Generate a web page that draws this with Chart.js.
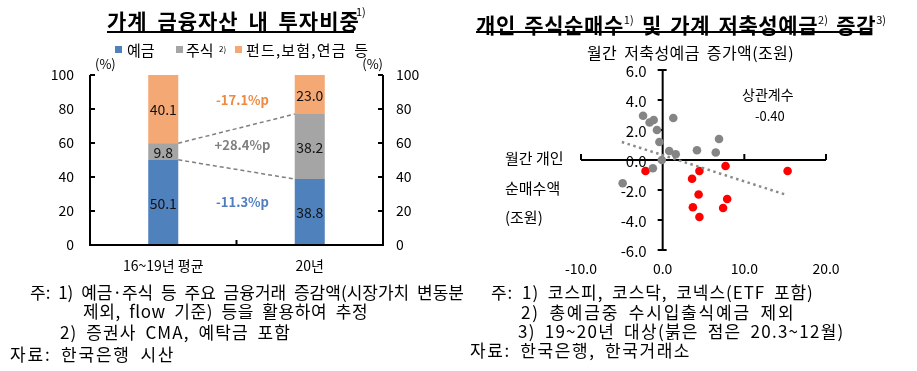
<!DOCTYPE html>
<html><head><meta charset="utf-8">
<script src="https://cdn.jsdelivr.net/npm/chart.js@4.4.0/dist/chart.umd.min.js"></script>
<style>
body{margin:0;background:#fff;width:917px;height:371px;overflow:hidden;position:relative;font-family:'Noto Sans CJK KR','Noto Sans',sans-serif;color:#000}
.t{position:absolute;white-space:pre;line-height:20px}
.fn{position:absolute;white-space:pre;line-height:20px;font-size:17px;word-spacing:4px}
.sq{position:absolute;width:7px;height:7px}
#c1wrap{position:absolute;left:0;top:0;width:460px;height:280px}
#c2wrap{position:absolute;left:460px;top:0;width:457px;height:285px}
.sup{font-size:11px;font-weight:normal;vertical-align:9px;letter-spacing:0;word-spacing:0}
</style></head><body>
<div id="c1wrap"><canvas id="c1" width="460" height="280"></canvas></div>
<div id="c2wrap"><canvas id="c2" width="457" height="285"></canvas></div>

<!-- left title -->
<div class="t" style="left:107px;top:9px;font-size:21px;font-weight:bold;line-height:22px;letter-spacing:1px;word-spacing:4px">가계 금융자산 내 투자비중</div>
<div class="t" style="left:356px;top:5px;font-size:11px;line-height:12px">1)</div>
<div style="position:absolute;left:107px;top:31px;width:247px;height:1.5px;background:#000"></div>
<!-- legend -->
<div class="sq" style="left:115px;top:46px;background:#4f81bd"></div>
<div class="t" style="left:127px;top:40px;font-size:15px">예금</div>
<div class="sq" style="left:176px;top:46px;background:#a5a5a5"></div>
<div class="t" style="left:186px;top:40px;font-size:15px">주식</div>
<div class="t" style="left:219px;top:39px;font-size:8px">2)</div>
<div class="sq" style="left:235px;top:46px;background:#f4a874"></div>
<div class="t" style="left:246px;top:40px;font-size:15px;letter-spacing:1.2px;word-spacing:3px">펀드,보험,연금 등</div>

<!-- right title -->
<div class="t" style="left:476px;top:8px;font-size:21px;font-weight:bold;line-height:22px;letter-spacing:0.6px;word-spacing:3px">개인 주식순매수<span class="sup">1)</span> 및 가계 저축성예금<span class="sup">2)</span> 증감<span class="sup">3)</span></div>
<div style="position:absolute;left:476px;top:31px;width:394px;height:1.5px;background:#000"></div>
<div class="t" style="left:587px;top:42px;font-size:16px;letter-spacing:0.4px;word-spacing:3px">월간 저축성예금 증가액(조원)</div>
<div class="t" style="left:742px;top:84px;font-size:14px">상관계수</div>
<div class="t" style="left:755px;top:106px;font-size:13px">-0.40</div>
<div class="t" style="left:505px;top:148px;font-size:15px">월간 개인</div>
<div class="t" style="left:505px;top:178px;font-size:15px">순매수액</div>
<div class="t" style="left:505px;top:207px;font-size:15px">(조원)</div>

<!-- footnotes left -->
<div class="fn" style="left:30px;top:282px;letter-spacing:0px">주: 1) 예금·주식 등 주요 금융거래 증감액(시장가치 변동분</div>
<div class="fn" style="left:83px;top:301px;letter-spacing:0.6px">제외, flow 기준) 등을 활용하여 추정</div>
<div class="fn" style="left:60px;top:322px;letter-spacing:1.1px">2) 증권사 CMA, 예탁금 포함</div>
<div class="fn" style="left:10px;top:344px;letter-spacing:1.8px">자료: 한국은행 시산</div>
<!-- footnotes right -->
<div class="fn" style="left:491px;top:282px;letter-spacing:0.95px">주: 1) 코스피, 코스닥, 코넥스(ETF 포함)</div>
<div class="fn" style="left:521px;top:302px;letter-spacing:1.8px">2) 총예금중 수시입출식예금 제외</div>
<div class="fn" style="left:518px;top:321px;letter-spacing:1.25px">3) 19~20년 대상(붉은 점은 20.3~12월)</div>
<div class="fn" style="left:470px;top:340px;letter-spacing:1.6px">자료: 한국은행, 한국거래소</div>

<script>
// ---- Left chart data ----
const categories = ['16~19년 평균', '20년'];
const deposits = [50.1, 38.8];
const stocks = [9.8, 38.2];
const funds = [40.1, 23.0];
const seriesNames = ['예금', '주식', '펀드,보험,연금 등'];
const changeLabels = ['-17.1%p', '+28.4%p', '-11.3%p'];

// ---- Right chart data ----
const grayX = [-2.4, -1.6, -1.1, 1.3, -0.7, -0.4, 6.9, 0.8, 1.6, 4.2, 6.5, -0.1, -1.2, -4.9];
const grayY = [2.95, 2.5, 2.67, 2.8, 2.0, 1.2, 1.4, 0.6, 0.38, 0.65, 0.5, 0.0, -0.55, -1.55];
const redX = [-2.1, 4.5, 7.7, 15.3, 3.6, 4.4, 7.9, 3.7, 7.4, 4.5];
const redY = [-0.73, -0.73, -0.4, -0.73, -1.25, -2.3, -2.6, -3.15, -3.2, -3.8];
const trendX = [-5.0, 15.0];
const trendY = [1.2, -2.3];
const xTicks = [-10, 0, 10, 20];
const yTicks = [-6, -4, -2, 0, 2, 4, 6];

const FONT = "'Noto Sans CJK KR','Noto Sans',sans-serif";
const COLORS = ['#4f81bd', '#a5a5a5', '#f4a874'];

const leftDecor = {
  id: 'leftDecor',
  afterDatasetsDraw(chart) {
    const ctx = chart.ctx, a = chart.chartArea;
    const xs = chart.scales.x, ys = chart.scales.y;
    ctx.save();
    ctx.strokeStyle = '#000'; ctx.lineWidth = 2;
    ctx.beginPath();
    ctx.moveTo(a.left, a.top); ctx.lineTo(a.left, a.bottom); ctx.lineTo(a.right, a.bottom); ctx.lineTo(a.right, a.top);
    ctx.stroke();
    ctx.beginPath();
    ys.ticks.forEach(t => {
      const y = ys.getPixelForValue(t.value);
      ctx.moveTo(a.left, y); ctx.lineTo(a.left + 5, y);
      ctx.moveTo(a.right, y); ctx.lineTo(a.right - 5, y);
    });
    const mid = (xs.getPixelForValue(0) + xs.getPixelForValue(1)) / 2;
    ctx.moveTo(mid, a.bottom); ctx.lineTo(mid, a.bottom - 5);
    ctx.stroke();
    // (%)
    ctx.fillStyle = '#000'; ctx.font = '13px ' + FONT; ctx.textBaseline = 'middle';
    ctx.textAlign = 'left'; ctx.fillText('(%)', a.left + 5, a.top - 11);
    ctx.textAlign = 'right'; ctx.fillText('(%)', a.right, a.top - 11);
    // data labels
    ctx.textAlign = 'center'; ctx.font = '14px ' + FONT; ctx.fillStyle = '#111';
    chart.data.datasets.forEach((ds, di) => {
      chart.getDatasetMeta(di).data.forEach((bar, i) => {
        ctx.fillText(ds.data[i].toFixed(1), bar.x, (bar.y + bar.base) / 2 + 1);
      });
    });
    // connector lines
    const m0 = chart.getDatasetMeta(0).data, m1 = chart.getDatasetMeta(1).data;
    ctx.strokeStyle = '#7f7f7f'; ctx.lineWidth = 1.5; ctx.setLineDash([4, 3]);
    ctx.beginPath();
    ctx.moveTo(m1[0].x + m1[0].width / 2, m1[0].y); ctx.lineTo(m1[1].x - m1[1].width / 2, m1[1].y);
    ctx.moveTo(m0[0].x + m0[0].width / 2, m0[0].y); ctx.lineTo(m0[1].x - m0[1].width / 2, m0[1].y);
    ctx.stroke(); ctx.setLineDash([]);
    // change annotations
    ctx.font = 'bold 13px ' + FONT;
    const pos = [85, 58.5, 25];
    const cols = ['#ed8a3f', '#7f7f7f', '#4f7ec0'];
    changeLabels.forEach((s, i) => {
      ctx.fillStyle = cols[i];
      ctx.fillText(s, mid + 6, ys.getPixelForValue(pos[i]));
    });
    ctx.restore();
  }
};

new Chart(document.getElementById('c1'), {
  type: 'bar',
  data: {
    labels: categories,
    datasets: [
      { label: seriesNames[0], data: deposits, backgroundColor: COLORS[0] },
      { label: seriesNames[1], data: stocks, backgroundColor: COLORS[1] },
      { label: seriesNames[2], data: funds, backgroundColor: COLORS[2] }
    ]
  },
  options: {
    responsive: false, animation: false, devicePixelRatio: 1,
    layout: { padding: { top: 75, left: 0, right: 0, bottom: 0 } },
    plugins: { legend: { display: false }, tooltip: { enabled: false } },
    datasets: { bar: { categoryPercentage: 1, barPercentage: 0.205 } },
    scales: {
      x: { stacked: true, grid: { display: false, drawTicks: false }, border: { display: false },
           ticks: { font: { size: 14, family: FONT }, color: '#000', padding: 12 },
           afterFit: s => { s.height = 35; } },
      y: { stacked: true, min: 0, max: 100, position: 'left',
           grid: { display: false, drawTicks: false }, border: { display: false },
           ticks: { stepSize: 20, font: { size: 14, family: FONT }, color: '#000', padding: 16 },
           afterFit: s => { s.width = 90; } },
      y2: { min: 0, max: 100, position: 'right',
           grid: { display: false, drawTicks: false }, border: { display: false },
           ticks: { stepSize: 20, font: { size: 14, family: FONT }, color: '#000', padding: 13 },
           afterFit: s => { s.width = 77; } }
    }
  },
  plugins: [leftDecor]
});

const rightDecor = {
  id: 'rightDecor',
  beforeDatasetsDraw(chart) {
    const ctx = chart.ctx, a = chart.chartArea;
    const xs = chart.scales.x, ys = chart.scales.y;
    const x0 = xs.getPixelForValue(0), y0 = ys.getPixelForValue(0);
    ctx.save();
    ctx.strokeStyle = '#000'; ctx.lineWidth = 2;
    ctx.beginPath();
    ctx.moveTo(a.left, y0); ctx.lineTo(a.right, y0);
    ctx.moveTo(x0, a.top); ctx.lineTo(x0, a.bottom);
    xTicks.forEach(v => { const x = xs.getPixelForValue(v); ctx.moveTo(x, y0); ctx.lineTo(x, y0 - 6); });
    yTicks.forEach(v => { const y = ys.getPixelForValue(v); ctx.moveTo(x0, y); ctx.lineTo(x0 - 5, y); });
    ctx.moveTo(x0, a.top); ctx.lineTo(x0 + 4, a.top);
    ctx.moveTo(x0, a.bottom); ctx.lineTo(x0 + 4, a.bottom);
    ctx.stroke();
    // y tick labels beside the centred y axis
    ctx.fillStyle = '#000'; ctx.font = '15px ' + FONT;
    ctx.textAlign = 'right'; ctx.textBaseline = 'middle';
    ys.ticks.forEach(t => {
      ctx.fillText(Number(t.value).toFixed(1), x0 - 16, ys.getPixelForValue(t.value) + 1);
    });
    ctx.restore();
  }
};

const toPts = (xs, ys) => xs.map((x, i) => ({ x: x, y: ys[i] }));

new Chart(document.getElementById('c2'), {
  type: 'scatter',
  data: {
    datasets: [
      { label: '추세선', type: 'line', data: toPts(trendX, trendY), borderColor: '#8a8a8a', borderWidth: 2.5,
        borderDash: [2.5, 3.5], pointRadius: 0, fill: false },
      { label: '19.1~20.2월', data: toPts(grayX, grayY), backgroundColor: '#858585', borderWidth: 0, pointRadius: 4.3 },
      { label: '20.3~12월', data: toPts(redX, redY), backgroundColor: '#ff0000', borderWidth: 0, pointRadius: 4.3 }
    ]
  },
  options: {
    responsive: false, animation: false, devicePixelRatio: 1,
    layout: { padding: { top: 70, left: 121, right: 91, bottom: 0 } },
    plugins: { legend: { display: false }, tooltip: { enabled: false } },
    scales: {
      x: { type: 'linear', min: -10, max: 20, position: 'bottom',
           grid: { display: false, drawTicks: false }, border: { display: false },
           ticks: { stepSize: 10, font: { size: 14, family: FONT }, color: '#000', padding: 10,
                    callback: v => Number(v).toFixed(1) },
           afterFit: s => { s.height = 35; } },
      y: { type: 'linear', min: -6, max: 6, position: { x: 0 },
           grid: { display: false, drawTicks: false }, border: { display: false },
           ticks: { stepSize: 2, display: false } }
    }
  },
  plugins: [rightDecor]
});
</script>
</body></html>
